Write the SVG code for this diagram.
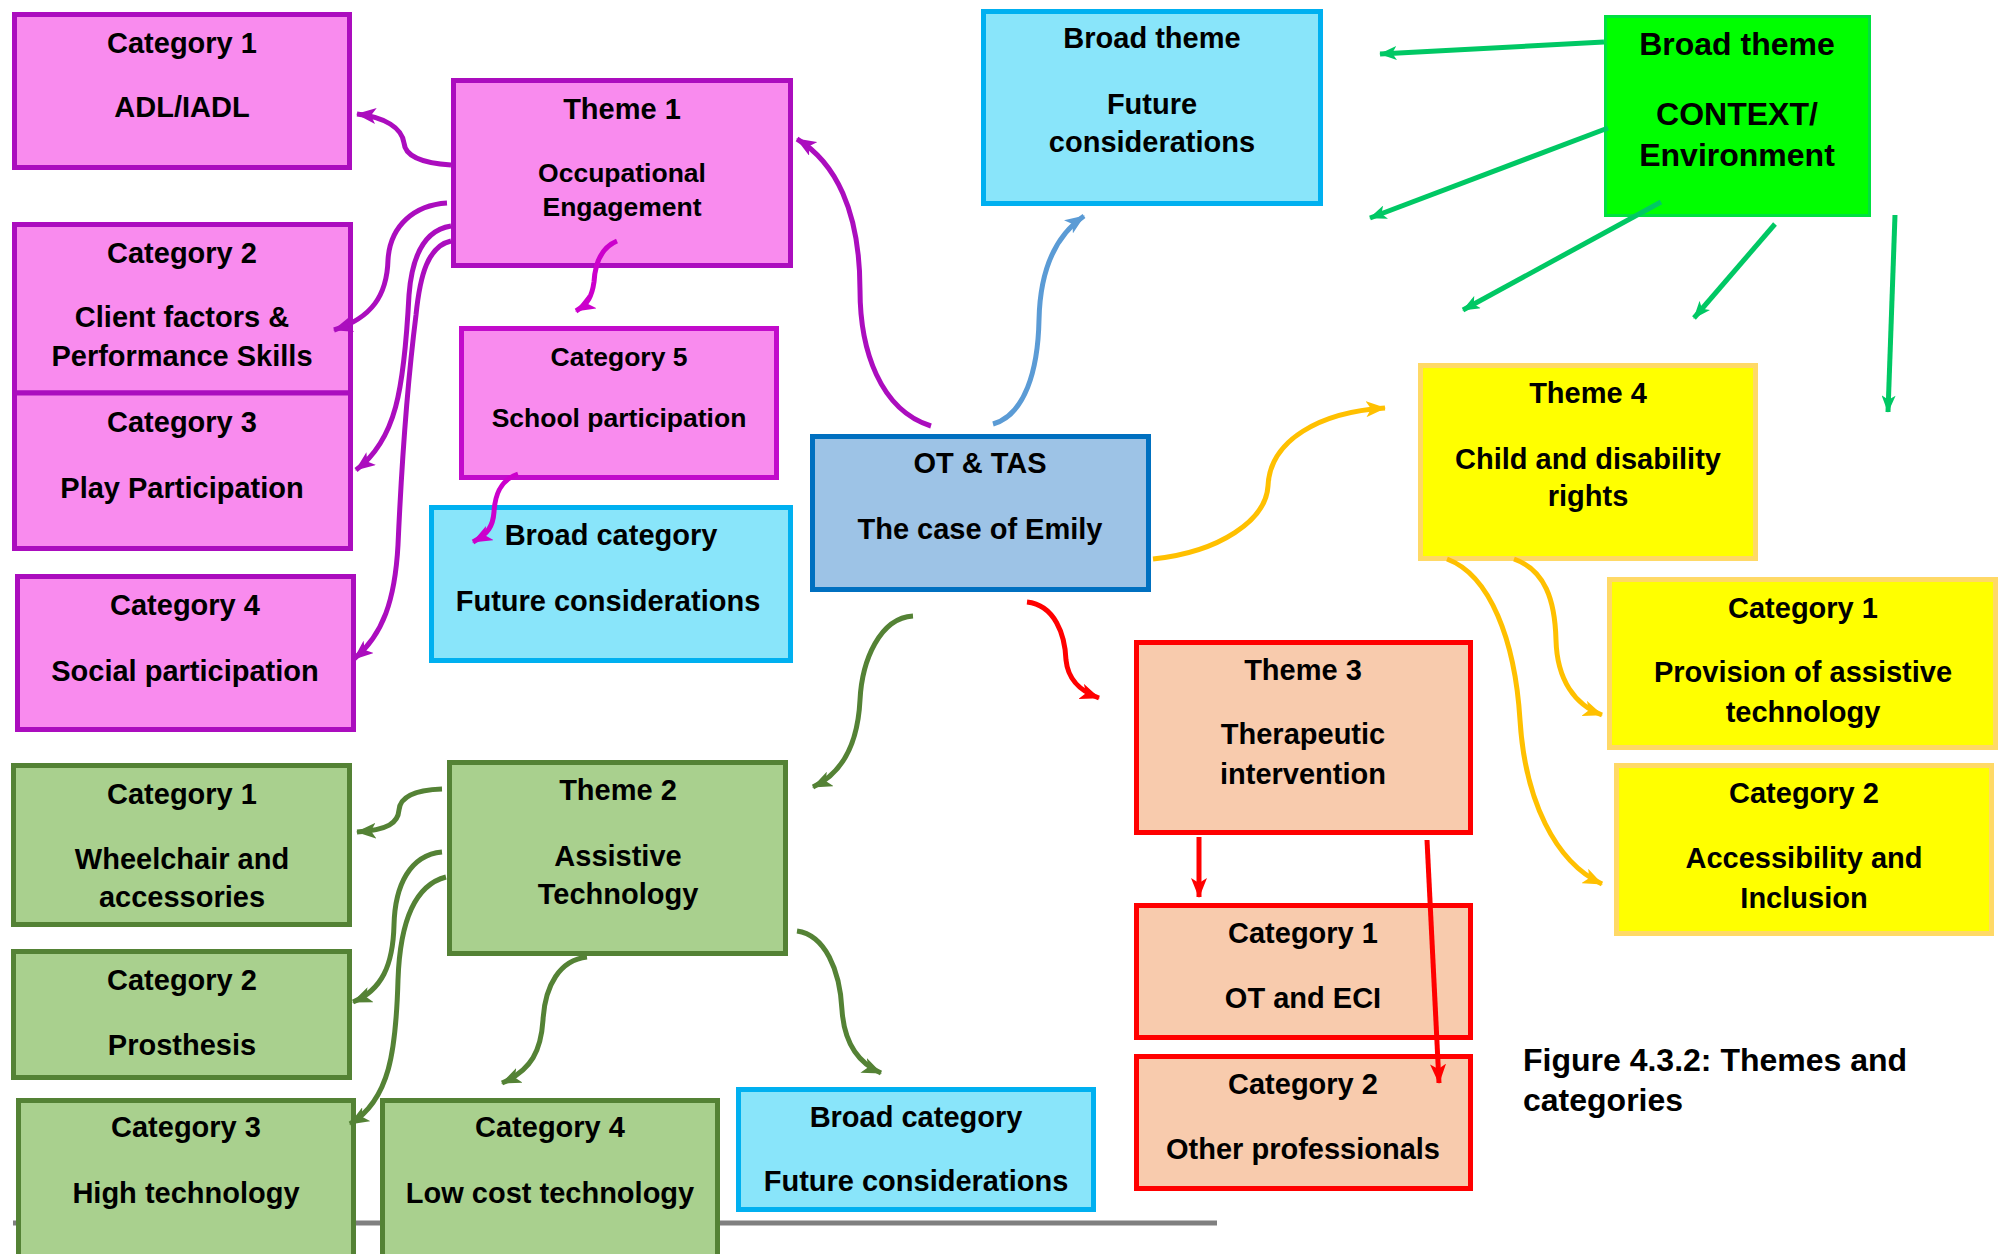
<svg xmlns="http://www.w3.org/2000/svg" width="2004" height="1254" viewBox="0 0 2004 1254">
  <defs>
    <style>
      text { font-family: "Liberation Sans", Arial, sans-serif; font-weight: bold; fill: #000; text-anchor: middle; font-size: 29px; }
      .sm { font-size: 26.5px; }
      .lg { font-size: 32px; }
      .cap { font-size: 32px; text-anchor: start; }
      .pink { fill: #F98BEE; stroke: #AB0DBE; stroke-width: 5; }
      .pink2 { fill: #F98BEE; stroke: #C20BCB; stroke-width: 5; }
      .cyan { fill: #89E5FA; stroke: #00B0F0; stroke-width: 5; }
      .olive { fill: #A9D08E; stroke: #548235; stroke-width: 5; }
      .blue { fill: #9DC3E6; stroke: #0070C0; stroke-width: 5; }
      .lime { fill: #00FF00; stroke: #00E040; stroke-width: 3; }
      .yellow { fill: #FFFF00; stroke: #FFD966; stroke-width: 5; }
      .peach { fill: #F8CBAD; stroke: #FF0000; stroke-width: 5; }
      .c { fill: none; stroke-width: 5; }
      .cp { stroke: #AB0DBE; marker-end: url(#ap); }
      .cm { stroke: #CC00CC; marker-end: url(#am); }
      .cb { stroke: #5B9BD5; marker-end: url(#ab); }
      .cg { stroke: #548235; marker-end: url(#ag); }
      .cr { stroke: #FF0000; marker-end: url(#ar); }
      .co { stroke: #FFC000; marker-end: url(#ao); }
      .cl { stroke: #00C864; marker-end: url(#al); }
    </style>
    <marker id="ap" markerUnits="userSpaceOnUse" viewBox="0 0 20 16" refX="19" refY="8" markerWidth="20" markerHeight="16" orient="auto"><path d="M0,0 L20,8 L0,16 L5,8 z" fill="#AB0DBE"/></marker>
    <marker id="am" markerUnits="userSpaceOnUse" viewBox="0 0 20 16" refX="19" refY="8" markerWidth="20" markerHeight="16" orient="auto"><path d="M0,0 L20,8 L0,16 L5,8 z" fill="#CC00CC"/></marker>
    <marker id="ab" markerUnits="userSpaceOnUse" viewBox="0 0 20 16" refX="19" refY="8" markerWidth="20" markerHeight="16" orient="auto"><path d="M0,0 L20,8 L0,16 L5,8 z" fill="#5B9BD5"/></marker>
    <marker id="ag" markerUnits="userSpaceOnUse" viewBox="0 0 20 16" refX="19" refY="8" markerWidth="20" markerHeight="16" orient="auto"><path d="M0,0 L20,8 L0,16 L5,8 z" fill="#548235"/></marker>
    <marker id="ar" markerUnits="userSpaceOnUse" viewBox="0 0 20 16" refX="19" refY="8" markerWidth="20" markerHeight="16" orient="auto"><path d="M0,0 L20,8 L0,16 L5,8 z" fill="#FF0000"/></marker>
    <marker id="ao" markerUnits="userSpaceOnUse" viewBox="0 0 20 16" refX="19" refY="8" markerWidth="20" markerHeight="16" orient="auto"><path d="M0,0 L20,8 L0,16 L5,8 z" fill="#FFC000"/></marker>
    <marker id="al" markerUnits="userSpaceOnUse" viewBox="0 0 20 16" refX="19" refY="8" markerWidth="18" markerHeight="14" orient="auto"><path d="M0,0 L20,8 L0,16 L5,8 z" fill="#00C864"/></marker>
  </defs>

  <rect width="2004" height="1254" fill="#FFFFFF"/>

  <!-- grey rule along the bottom, behind the lowest boxes -->
  <line x1="13" y1="1223" x2="1217" y2="1223" stroke="#808080" stroke-width="5"/>

  <!-- Theme 1: occupational engagement (pink) -->
  <g id="pink-cat1">
    <rect class="pink" x="14.5" y="14.5" width="335" height="153"/>
    <text x="182" y="53">Category 1</text>
    <text x="182" y="117">ADL/IADL</text>
  </g>
  <g id="theme1">
    <rect class="pink" x="453.5" y="80.5" width="337" height="185"/>
    <text x="622" y="119">Theme 1</text>
    <text class="sm" x="622" y="182">Occupational</text>
    <text class="sm" x="622" y="216">Engagement</text>
  </g>
  <g id="pink-cat2">
    <rect class="pink" x="14.5" y="224.5" width="336" height="168.5"/>
    <text x="182" y="262.5">Category 2</text>
    <text x="182" y="327">Client factors &amp;</text>
    <text x="182" y="366">Performance Skills</text>
  </g>
  <g id="pink-cat3">
    <rect class="pink" x="14.5" y="393" width="336" height="155.5"/>
    <text x="182" y="432">Category 3</text>
    <text x="182" y="498">Play Participation</text>
  </g>
  <g id="pink-cat4">
    <rect class="pink" x="17.5" y="576.5" width="336" height="153"/>
    <text x="185" y="615">Category 4</text>
    <text x="185" y="681">Social participation</text>
  </g>
  <g id="pink-cat5">
    <rect class="pink2" x="461.5" y="328.5" width="315" height="149"/>
    <text class="sm" x="619" y="366">Category 5</text>
    <text class="sm" x="619" y="427">School participation</text>
  </g>
  <g id="broad-cat-mid">
    <rect class="cyan" x="431.5" y="507.5" width="359" height="153"/>
    <text x="611" y="545">Broad category</text>
    <text x="608" y="611">Future considerations</text>
  </g>

  <!-- Broad themes at the top -->
  <g id="broad-theme-future">
    <rect class="cyan" x="983.5" y="11.5" width="337" height="192"/>
    <text x="1152" y="48">Broad theme</text>
    <text x="1152" y="114">Future</text>
    <text x="1152" y="152">considerations</text>
  </g>
  <g id="broad-theme-context">
    <rect class="lime" x="1605.5" y="16.5" width="264" height="199"/>
    <text class="lg" x="1737" y="55">Broad theme</text>
    <text class="lg" x="1737" y="125">CONTEXT/</text>
    <text class="lg" x="1737" y="166">Environment</text>
  </g>

  <!-- Centre -->
  <g id="ot-tas">
    <rect class="blue" x="812.5" y="436.5" width="336" height="153"/>
    <text x="980" y="472.5">OT &amp; TAS</text>
    <text x="980" y="538.5">The case of Emily</text>
  </g>

  <!-- Theme 4: rights (yellow) -->
  <g id="theme4">
    <rect class="yellow" x="1420.5" y="365.5" width="335" height="193"/>
    <text x="1588" y="403">Theme 4</text>
    <text x="1588" y="468.5">Child and disability</text>
    <text x="1588" y="506">rights</text>
  </g>
  <g id="yellow-cat1">
    <rect class="yellow" x="1609.5" y="579.5" width="386" height="168"/>
    <text x="1803" y="617.5">Category 1</text>
    <text x="1803" y="682">Provision of assistive</text>
    <text x="1803" y="721.5">technology</text>
  </g>
  <g id="yellow-cat2">
    <rect class="yellow" x="1616.5" y="765.5" width="375" height="168"/>
    <text x="1804" y="802.5">Category 2</text>
    <text x="1804" y="867.5">Accessibility and</text>
    <text x="1804" y="907.5">Inclusion</text>
  </g>

  <!-- Theme 3: therapeutic intervention (peach) -->
  <g id="theme3">
    <rect class="peach" x="1136.5" y="642.5" width="334" height="190"/>
    <text x="1303" y="679.5">Theme 3</text>
    <text x="1303" y="743.5">Therapeutic</text>
    <text x="1303" y="783.5">intervention</text>
  </g>
  <g id="red-cat1">
    <rect class="peach" x="1136.5" y="905.5" width="334" height="132"/>
    <text x="1303" y="943">Category 1</text>
    <text x="1303" y="1008">OT and ECI</text>
  </g>
  <g id="red-cat2">
    <rect class="peach" x="1136.5" y="1056.5" width="334" height="132"/>
    <text x="1303" y="1093.5">Category 2</text>
    <text x="1303" y="1158.5">Other professionals</text>
  </g>

  <!-- Theme 2: assistive technology (olive) -->
  <g id="green-cat1">
    <rect class="olive" x="13.5" y="765.5" width="336" height="159"/>
    <text x="182" y="804">Category 1</text>
    <text x="182" y="869">Wheelchair and</text>
    <text x="182" y="907">accessories</text>
  </g>
  <g id="theme2">
    <rect class="olive" x="449.5" y="762.5" width="336" height="191"/>
    <text x="618" y="800">Theme 2</text>
    <text x="618" y="866">Assistive</text>
    <text x="618" y="904">Technology</text>
  </g>
  <g id="green-cat2">
    <rect class="olive" x="13.5" y="951.5" width="336" height="126"/>
    <text x="182" y="990">Category 2</text>
    <text x="182" y="1055">Prosthesis</text>
  </g>
  <g id="green-cat3">
    <rect class="olive" x="18.5" y="1100.5" width="335" height="170"/>
    <text x="186" y="1137">Category 3</text>
    <text x="186" y="1203">High technology</text>
  </g>
  <g id="green-cat4">
    <rect class="olive" x="382.5" y="1100.5" width="335" height="170"/>
    <text x="550" y="1137">Category 4</text>
    <text x="550" y="1203">Low cost technology</text>
  </g>
  <g id="broad-cat-bottom">
    <rect class="cyan" x="738.5" y="1089.5" width="355" height="120"/>
    <text x="916" y="1126.5">Broad category</text>
    <text x="916" y="1191">Future considerations</text>
  </g>

  <!-- Figure caption -->
  <text class="cap" x="1523" y="1071">Figure 4.3.2: Themes and</text>
  <text class="cap" x="1523" y="1111">categories</text>

  <!-- Connectors -->
  <g id="connectors">
    <!-- from OT & TAS -->
    <path class="c cp" d="M931,426 C880,410 860,350 860,290 C860,210 835,162 797,139"/>
    <path class="c cb" d="M993,424 C1025,415 1038,370 1039,320 C1040,270 1055,236 1084,216"/>
    <path class="c cg" d="M913,616 C880,618 862,660 860,700 C858,740 845,772 813,787"/>
    <path class="c cr" d="M1027,602 C1055,605 1065,635 1066,660 C1068,680 1080,691 1099,698"/>
    <path class="c co" d="M1153,559 C1220,552 1266,520 1268,486 C1270,440 1320,412 1385,408"/>

    <!-- Theme 1 to its categories -->
    <path class="c cp" d="M451,165 C420,163 405,155 404,143 C402,128 385,117 357,114"/>
    <path class="c cp" d="M447,203 C415,205 390,225 388,260 C387,295 372,318 334,330"/>
    <path class="c cp" d="M451,226 C425,230 412,255 409,295 C404,390 396,440 356,470"/>
    <path class="c cp" d="M451,241 C428,246 420,275 416,315 C404,410 400,500 398,545 C395,600 383,635 354,659"/>
    <path class="c cm" d="M617,241 C600,248 595,265 594,282 C592,296 588,304 576,311"/>
    <path class="c cm" d="M518,474 C500,480 495,495 494,512 C493,526 488,534 473,542"/>

    <!-- Theme 2 to its categories -->
    <path class="c cg" d="M442,789 C415,790 400,797 399,810 C398,823 388,830 357,832"/>
    <path class="c cg" d="M442,852 C410,855 395,885 394,925 C393,965 382,990 353,1002"/>
    <path class="c cg" d="M446,877 C415,885 400,920 398,980 C396,1050 390,1100 350,1124"/>
    <path class="c cg" d="M587,957 C560,960 545,985 543,1020 C541,1050 532,1070 502,1083"/>
    <path class="c cg" d="M797,931 C825,935 840,970 842,1010 C844,1040 856,1062 881,1073"/>

    <!-- Theme 3 to its categories -->
    <path class="c cr" d="M1199,837 L1199,897"/>
    <path class="c cr" d="M1427,840 L1439,1083"/>

    <!-- Theme 4 to its categories -->
    <path class="c co" d="M1514,559 C1545,570 1555,600 1556,640 C1557,680 1575,705 1602,715"/>
    <path class="c co" d="M1447,559 C1490,575 1515,640 1520,720 C1525,800 1555,862 1602,884"/>

    <!-- context / environment arrows -->
    <path class="c cl" d="M1604,42 L1380,54"/>
    <path class="c cl" d="M1608,128 L1370,218"/>
    <path class="c cl" d="M1661,202 L1463,310"/>
    <path class="c cl" d="M1775,224 L1694,318"/>
    <path class="c cl" d="M1895,215 L1888,412"/>
  </g>
</svg>
